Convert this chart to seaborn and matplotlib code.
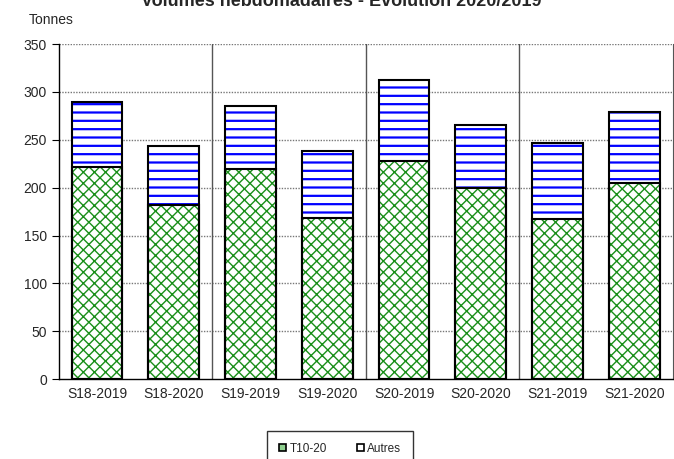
import numpy as np
import pandas as pd
import matplotlib
matplotlib.use("Agg")
import matplotlib.pyplot as plt
import seaborn as sns
from matplotlib.patches import Patch

sns.set_style("white")
plt.rcParams['font.family'] = ['Liberation Sans', 'DejaVu Sans']
plt.rcParams['hatch.linewidth'] = 1.6

# Données
semaines = ['S18-2019', 'S18-2020', 'S19-2019', 'S19-2020',
            'S20-2019', 'S20-2020', 'S21-2019', 'S21-2020']
t10_20 = [222, 182, 220, 168, 228, 200, 167, 205]
autres = [68, 62, 65, 70, 84, 65, 80, 74]
total = [a + b for a, b in zip(t10_20, autres)]

df = pd.DataFrame({'semaine': semaines, 'T10-20': t10_20,
                   'Autres': autres, 'total': total})

fig = plt.figure(figsize=(6.74, 4.59), dpi=100)
ax = fig.add_axes([0.087, 0.174, 0.911, 0.730])

bw = 0.66
# couche Autres (empilée au-dessus)
sns.barplot(data=df, x='semaine', y='total', ax=ax, width=bw, errorbar=None)
for p in ax.containers[-1]:
    p.set_facecolor('white')
    p.set_edgecolor('#0000ff')
    p.set_hatch('--')
    p.set_linewidth(0)

# couche T10-20
sns.barplot(data=df, x='semaine', y='T10-20', ax=ax, width=bw, errorbar=None)
for p in ax.containers[-1]:
    p.set_facecolor('white')
    p.set_edgecolor('#1a8f1a')
    p.set_hatch('xxx')
    p.set_linewidth(0)
    if hasattr(p, 'set_hatch_linewidth'):
        p.set_hatch_linewidth(1.0)

# contours noirs
for col in ['total', 'T10-20']:
    sns.barplot(data=df, x='semaine', y=col, ax=ax, width=bw, errorbar=None)
    for p in ax.containers[-1]:
        p.set_facecolor('none')
        p.set_edgecolor('black')
        p.set_hatch(None)
        p.set_linewidth(1.5)

ax.set_xlim(-0.5, 7.5)
ax.set_ylim(0, 350)
ax.set_yticks(np.arange(0, 351, 50))
ax.set_xlabel('')
ax.set_ylabel('')

# grille pointillée
for yv in np.arange(50, 351, 50):
    ax.axhline(yv, color='#777777', lw=1, ls=(0, (1, 1)), zorder=0)
# séparateurs de semaines
for xv in [1.5, 3.5, 5.5]:
    ax.axvline(xv, color='#555555', lw=1, zorder=0.5)

for s in ['left', 'bottom']:
    ax.spines[s].set_color('black')
    ax.spines[s].set_linewidth(1)
ax.spines['top'].set_visible(False)
ax.spines['right'].set_color('#555555')

ax.set_xticks(np.arange(-0.5, 8.0, 1.0), minor=True)
ax.tick_params(axis='x', which='major', length=0, labelsize=10, pad=6)
ax.tick_params(axis='x', which='minor', length=5, direction='out', color='black')
ax.tick_params(axis='y', length=5, direction='out', labelsize=10, color='black', left=True)

fig.text(0.507, 0.987, 'Volumes hebdomadaires - Evolution 2020/2019',
         ha='center', va='baseline', fontsize=13, fontweight='bold')
fig.text(0.042, 0.957, 'Tonnes', ha='left', va='center', fontsize=10)

handles = [Patch(facecolor='#8fd08f', edgecolor='black', lw=1.2, label='T10-20'),
           Patch(facecolor='white', edgecolor='black', lw=1.2, label='Autres')]
leg = fig.legend(handles=handles, loc='upper center', bbox_to_anchor=(0.505, 0.061),
                 ncol=2, fontsize=8.5, frameon=True, fancybox=False,
                 handlelength=0.6, handleheight=0.6, handletextpad=0.25,
                 columnspacing=2.6, borderpad=1.0, borderaxespad=0,
                 edgecolor='black')
leg.get_frame().set_linewidth(1)

fig.savefig('out.png', dpi=100)
